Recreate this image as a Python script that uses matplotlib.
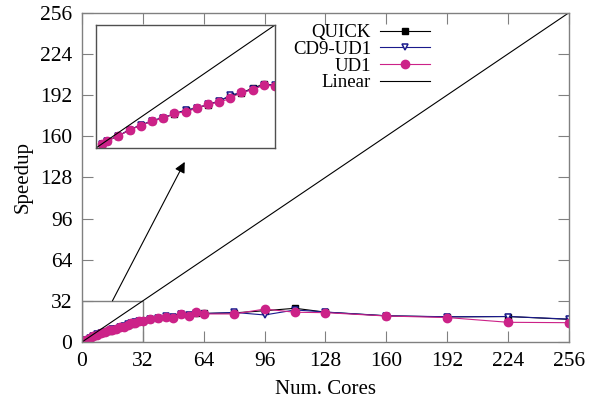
import matplotlib
matplotlib.use("Agg")
import matplotlib.pyplot as plt
from matplotlib.patches import Rectangle

plt.rcParams['font.family'] = ['Liberation Serif', 'DejaVu Serif']
plt.rcParams['mathtext.fontset'] = 'stix'

cores = [1, 2, 4, 6, 8, 10, 12, 14, 16, 18, 20, 22, 24, 26, 28, 30, 32,
         36, 40, 44, 48, 52, 56, 60, 64, 80, 96, 112, 128, 160, 192, 224, 256]
quick = [1.0, 1.9, 3.1, 4.8, 5.9, 7.0, 7.9, 8.8, 9.9, 10.3, 11.3, 12.2, 13.5, 14.3, 15.6, 16.6, 16.2,
         17.7, 18.9, 19.8, 19.3, 21.6, 20.7, 22.3, 22.2, 22.6, 24.3, 26.2, 23.2, 20.3, 19.5, 19.8, 17.6]
cd9_ud1 = [1.0, 1.9, 3.1, 4.8, 5.9, 7.1, 7.9, 8.9, 9.8, 10.4, 11.4, 12.1, 13.8, 14.4, 15.3, 16.5, 16.4,
           17.8, 19.0, 19.9, 19.2, 21.8, 20.6, 22.3, 22.1, 23.0, 21.0, 24.9, 23.3, 20.4, 19.6, 19.8, 17.8]
ud1 = [1.0, 1.9, 3.1, 4.7, 5.8, 7.0, 7.7, 9.0, 9.4, 10.3, 11.4, 11.9, 12.9, 14.5, 15.1, 16.4, 16.1,
       17.9, 18.9, 19.7, 18.9, 21.5, 20.2, 23.1, 21.8, 21.8, 25.6, 23.1, 22.8, 20.2, 19.0, 15.3, 15.0]
linear = [0, 256]
ticks = [0, 32, 64, 96, 128, 160, 192, 224, 256]

BLACK = '#000000'
BLUE = '#1a1a8c'
PINK = '#cc2288'
GRAY = '#808080'

fig = plt.figure(figsize=(5.96, 4.05), dpi=100)
ax = fig.add_axes([0.1376, 0.1556, 0.817, 0.813])

def draw(a, lw=0.8):
    a.plot(cores, quick, color=BLACK, lw=lw, marker='s', ms=5, mfc=BLACK, mec=BLACK, label='QUICK')
    a.plot(cores, cd9_ud1, color=BLUE, lw=lw, marker='v', ms=4.5, mfc='white', mec=BLUE, mew=1.1, label='CD9-UD1')
    a.plot(cores, ud1, color=PINK, lw=lw, marker='o', ms=6, mfc=PINK, mec=PINK, label='UD1')
    a.plot(linear, linear, color=BLACK, lw=0.8, label='Linear')

draw(ax)
ax.set_xlim(0, 256)
ax.set_ylim(0, 256)
ax.set_xticks(ticks)
ax.set_yticks(ticks)
ax.tick_params(direction='in', length=8, width=0.8, color=GRAY, top=True, right=True,
               labelsize=15.5, pad=7)
for s in ax.spines.values():
    s.set_color(GRAY)
    s.set_linewidth(1.0)
ax.set_xlabel('Num. Cores', fontsize=15, labelpad=7)
ax.set_ylabel('Speedup', fontsize=15, labelpad=5)

ax.add_patch(Rectangle((0, 0), 32, 32, fill=False, edgecolor=GRAY, lw=1.0, zorder=1))
ax.annotate('', xy=(54, 140), xytext=(16, 32),
            arrowprops=dict(arrowstyle='-|>', color=BLACK, lw=0.8, mutation_scale=16,
                            shrinkA=0, shrinkB=0))

leg = ax.legend(loc='upper right', bbox_to_anchor=(430 / 596, 1 - 24 / 405),
                bbox_transform=fig.transFigure, frameon=False, markerfirst=False,
                fontsize=13.5, handlelength=2.65, handletextpad=0.5, labelspacing=-0.02,
                borderpad=0, borderaxespad=0)

ins = fig.add_axes([96 / 596, 1 - 148 / 405, 179 / 596, 123 / 405])
draw(ins)
ins.set_xlim(0, 32)
ins.set_ylim(0, 32)
ins.set_xticks([])
ins.set_yticks([])
for s in ins.spines.values():
    s.set_color('#505050')
    s.set_linewidth(1.0)

fig.savefig('out.png', dpi=100)
